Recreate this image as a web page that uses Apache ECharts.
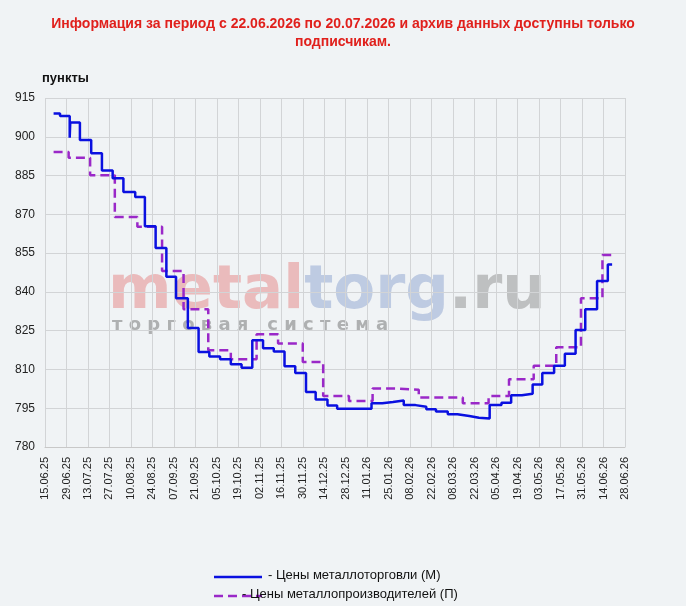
<!DOCTYPE html>
<html><head><meta charset="utf-8">
<script src="https://cdn.jsdelivr.net/npm/echarts@6/dist/echarts.min.js"></script>
<style>html,body{margin:0;padding:0;background:#f0f3f5}#c{width:686px;height:606px}</style>
</head><body><div id="c"></div>
<script>
// week offsets from 15.06.2025 and index values
const tradeWeeks = [0.8,1.4,2.3,2.35,3.25,4.3,5.3,6.3,7.3,8.4,9.3,10.3,11.3,12.2,13.3,14.3,15.3,16.3,17.3,18.3,19.3,20.3,21.3,22.3,23.3,24.3,25.2,26.3,27.2,30.4,31.4,32.4,33.4,34.5,35.5,36.4,37.5,38.4,39.5,40.4,41.4,42.5,43.4,44.4,45.4,46.3,47.4,48.4,49.4,50.3,51.4,52.4,52.8];
const tradeVals  = [909,908,899.6,905.5,898.8,893.6,887,884,878.6,876.7,865.4,857,845.9,837.5,826,816.7,815,813.9,812,810.7,821.3,818.2,816.9,811.2,808.6,801.3,798.4,796.1,794.8,796.9,797.4,798,796.2,795.6,794.6,793.7,792.7,792,791.3,791,796.2,797.1,800,800.6,804.2,808.6,811.4,816.1,825.3,833.3,844.2,850.6,850.6];
const prodWeeks = [0.8,2.2,4.2,6.5,8.6,10.9,12.9,15.2,17.3,19.7,21.7,24,25.9,28.3,30.5,32.7,34.8,38.9,41.3,43.2,45.5,47.6,49.9,51.9,52.8];
const prodVals  = [894.1,891.9,885.1,869,865.2,848.1,833.3,817.4,813.9,823.6,820,812.9,799.7,797.8,802.6,802.1,799.1,796.9,799.7,806.2,811.4,818.6,837.5,854.3,854.3];
const tickLabels = ['15.06.25','29.06.25','13.07.25','27.07.25','10.08.25','24.08.25','07.09.25','21.09.25','05.10.25','19.10.25','02.11.25','16.11.25','30.11.25','14.12.25','28.12.25','11.01.26','25.01.26','08.02.26','22.02.26','08.03.26','22.03.26','05.04.26','19.04.26','03.05.26','17.05.26','31.05.26','14.06.26','28.06.26'];
const seriesNames = ['- Цены металлоторговли (М)','- Цены металлопроизводителей (П)'];
const colors = ['#0a10e0','#9a28c8'];

const chart = echarts.init(document.getElementById('c'));
chart.setOption({
  backgroundColor:'#f0f3f5',
  animation:false,
  title:{text:'Информация за период с 22.06.2026 по 20.07.2026 и архив данных доступны только\nподписчикам.',left:'center',top:10,
    textStyle:{color:'#e0201c',fontSize:14,fontWeight:'bold',fontFamily:'Arial, Liberation Sans',lineHeight:18}},
  graphic:[
    {type:'text',left:42,top:72,style:{text:'пункты',fontSize:13,fontWeight:'bold',fill:'#111',fontFamily:'Arial, Liberation Sans'}},
    {type:'text',left:108,top:262,z:0,style:{text:'{a|metal}{b|torg}{c|.ru}',rich:{
      a:{fontSize:61,fontWeight:'bold',fill:'rgba(230,140,140,0.55)',fontFamily:'DejaVu Sans'},
      b:{fontSize:61,fontWeight:'bold',fill:'rgba(150,170,210,0.55)',fontFamily:'DejaVu Sans'},
      c:{fontSize:61,fontWeight:'bold',fill:'rgba(150,150,150,0.55)',fontFamily:'DejaVu Sans'}}}},
    {type:'text',left:112,top:316,z:0,style:{text:'т о р г о в а я   с и с т е м а',fontSize:18,fontWeight:'bold',fill:'rgba(120,120,120,0.55)',fontFamily:'DejaVu Sans'}},
    {type:'line',shape:{x1:214,y1:577,x2:262,y2:577},style:{stroke:colors[0],lineWidth:2.5}},
    {type:'text',left:268,top:569,style:{text:seriesNames[0],fontSize:13,fill:'#111',fontFamily:'Arial, Liberation Sans'}},
    {type:'line',shape:{x1:214,y1:596,x2:262,y2:596},style:{stroke:colors[1],lineWidth:2.5,lineDash:[9,5]}},
    {type:'text',left:242,top:588,style:{text:seriesNames[1],fontSize:13,fill:'#111',fontFamily:'Arial, Liberation Sans',backgroundColor:'transparent'}}
  ],
  grid:{left:45,right:61,top:98,bottom:159},
  xAxis:{type:'value',min:0,max:378,interval:14,
    axisLine:{show:true,lineStyle:{color:'#c8c8c8'}},axisTick:{show:false},
    splitLine:{show:true,lineStyle:{color:'#d2d4d6',width:1}},
    axisLabel:{rotate:90,color:'#222',fontSize:11,margin:10,fontFamily:'Arial, Liberation Sans',formatter:v=>tickLabels[Math.round(v/14)]||''}},
  yAxis:{type:'value',min:780,max:915,interval:15,
    axisLine:{show:false},axisTick:{show:false},
    splitLine:{lineStyle:{color:'#d2d4d6',width:1}},
    axisLabel:{color:'#222',fontSize:12,margin:10,fontFamily:'Arial, Liberation Sans'}},
  series:[
    {name:seriesNames[0],type:'line',step:'end',symbol:'none',showSymbol:false,z:3,
      lineStyle:{color:colors[0],width:2.5},itemStyle:{color:colors[0]},
      data:tradeWeeks.map((w,i)=>[w*7,tradeVals[i]])},
    {name:seriesNames[1],type:'line',step:'end',symbol:'none',showSymbol:false,z:2,
      lineStyle:{color:colors[1],width:2.5,type:[9,5]},itemStyle:{color:colors[1]},
      data:prodWeeks.map((w,i)=>[w*7,prodVals[i]])}
  ]
});
</script></body></html>
